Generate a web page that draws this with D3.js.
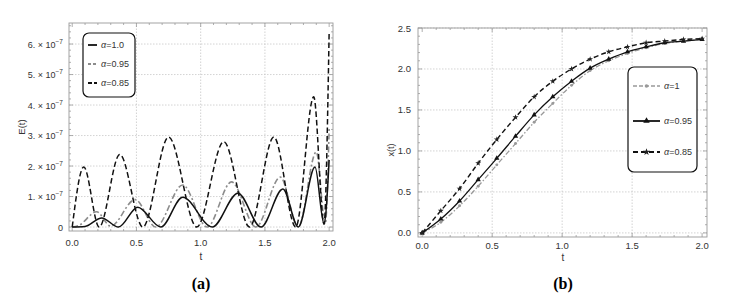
<!DOCTYPE html>
<html><head><meta charset="utf-8">
<script src="https://cdn.jsdelivr.net/npm/d3@7"></script>
<style>body{margin:0;background:#fff}svg{display:block}text{font-family:"Liberation Sans",Arial,sans-serif}</style>
</head><body><svg id="c" width="737" height="305"></svg>
<script>
// ---- Panel (a): E(t), values in units of 1e-7 ----
const tA1 = [0, 0.1, 0.23, 0.36, 0.51, 0.69, 0.86, 1.09, 1.29, 1.47, 1.64, 1.76, 1.89, 1.96, 2.0];
const eA1 = [0, 0.02, 0.3, 0, 0.65, 0, 0.98, 0, 1.11, 0, 1.25, 0, 1.97, 0.1, 2.2];
const tA95 = [0, 0.05, 0.19, 0.3, 0.49, 0.65, 0.86, 1.05, 1.24, 1.43, 1.62, 1.76, 1.9, 1.97, 2.0];
const eA95 = [0, 0.05, 0.5, 0.03, 0.9, 0, 1.38, 0, 1.48, 0, 1.64, 0, 2.46, 0.1, 3.25];
const tA85 = [0, 0.09, 0.21, 0.37, 0.55, 0.75, 0.97, 1.18, 1.38, 1.57, 1.74, 1.88, 1.96, 2.0];
const eA85 = [0, 1.97, 0, 2.38, 0, 2.95, 0, 2.8, 0, 2.95, 0, 4.27, 0.1, 6.4];
const xTicksA = [0, 0.5, 1.0, 1.5, 2.0];
const xTickLabelsA = ["0.0", "0.5", "1.0", "1.5", "2.0"];
const yTicksA = [0, 1, 2, 3, 4, 5, 6];
const yTickMantA = ["0", "1.", "2.", "3.", "4.", "5.", "6."];
const legendA = ["α=1.0", "α=0.95", "α=0.85"];

// ---- Panel (b): x(t) ----
const tB = [0, 0.133, 0.267, 0.4, 0.533, 0.667, 0.8, 0.933, 1.067, 1.2, 1.333, 1.467, 1.6, 1.733, 1.867, 2.0];
const xB1 = [0, 0.13, 0.33, 0.57, 0.83, 1.09, 1.35, 1.58, 1.80, 1.98, 2.10, 2.19, 2.26, 2.31, 2.34, 2.36];
const xB95 = [0, 0.17, 0.39, 0.65, 0.91, 1.18, 1.44, 1.66, 1.85, 2.01, 2.12, 2.21, 2.27, 2.32, 2.34, 2.36];
const xB85 = [0, 0.27, 0.54, 0.85, 1.14, 1.41, 1.66, 1.85, 2.0, 2.12, 2.21, 2.27, 2.32, 2.34, 2.36, 2.37];
const xTicksB = [0, 0.5, 1.0, 1.5, 2.0];
const yTicksB = [0, 0.5, 1.0, 1.5, 2.0, 2.5];
const legendB = ["α=1", "α=0.95", "α=0.85"];

const svg = d3.select("#c");
const TXT = "#333", FR = "#9a9a9a", GRID = "#c8c8c8";
const SERIF = "'Liberation Serif','Times New Roman',serif";

function frame(g, x, y, xMinor, yMinor, xMajor, yMajor) {
  const [x0, x1] = x.range(), [y0, y1] = y.range();
  g.selectAll(null).data(xMajor.filter(v => v > 0 && v < 2)).join("line")
    .attr("x1", d => x(d)).attr("x2", d => x(d)).attr("y1", y0).attr("y2", y1)
    .attr("stroke", GRID).attr("stroke-width", 0.8).attr("stroke-dasharray", "1.5,1.5");
  g.selectAll(null).data(yMajor).join("line")
    .attr("x1", x0).attr("x2", x1).attr("y1", d => y(d)).attr("y2", d => y(d))
    .attr("stroke", GRID).attr("stroke-width", 0.8).attr("stroke-dasharray", "1.5,1.5");
  g.append("rect").attr("x", x0).attr("y", y1).attr("width", x1 - x0).attr("height", y0 - y1)
    .attr("fill", "none").attr("stroke", FR).attr("stroke-width", 0.9);
  xMinor.forEach(v => {
    const maj = xMajor.some(m => Math.abs(m - v) < 1e-6), L = maj ? 4 : 2;
    g.append("line").attr("x1", x(v)).attr("x2", x(v)).attr("y1", y0).attr("y2", y0 - L).attr("stroke", FR).attr("stroke-width", 0.8);
    g.append("line").attr("x1", x(v)).attr("x2", x(v)).attr("y1", y1).attr("y2", y1 + L).attr("stroke", FR).attr("stroke-width", 0.8);
  });
  yMinor.forEach(v => {
    const maj = yMajor.some(m => Math.abs(m - v) < 1e-6), L = maj ? 4 : 2;
    g.append("line").attr("y1", y(v)).attr("y2", y(v)).attr("x1", x0).attr("x2", x0 + L).attr("stroke", FR).attr("stroke-width", 0.8);
    g.append("line").attr("y1", y(v)).attr("y2", y(v)).attr("x1", x1).attr("x2", x1 - L).attr("stroke", FR).attr("stroke-width", 0.8);
  });
}

// ===== Panel (a) =====
const xA = d3.scaleLinear().domain([-0.025, 2.03]).range([69, 333]);
const yA = d3.scaleLinear().domain([-0.13, 6.69]).range([231, 23]);
const gA = svg.append("g");
frame(gA, xA, yA, d3.range(0, 2.01, 0.1), d3.range(0, 6.61, 0.2), xTicksA, yTicksA);

xTicksA.forEach((v, i) => gA.append("text").attr("x", xA(v)).attr("y", 246).attr("text-anchor", "middle")
  .attr("font-size", 9.5).attr("fill", TXT).text(xTickLabelsA[i]));
yTicksA.forEach((v, i) => {
  const t = gA.append("text").attr("x", 63).attr("y", yA(v) + 3.5).attr("text-anchor", "end").attr("font-size", 9).attr("fill", TXT);
  if (v === 0) { t.text("0"); return; }
  t.append("tspan").text(yTickMantA[i] + " × 10");
  t.append("tspan").attr("dy", -4).attr("font-size", 6.5).text("−7");
});
gA.append("text").attr("transform", "translate(25,127) rotate(-90)").attr("text-anchor", "middle")
  .attr("font-size", 9.5).attr("fill", TXT).text("E(t)");
gA.append("text").attr("x", 201).attr("y", 260).attr("text-anchor", "middle").attr("font-size", 10).attr("fill", TXT).text("t");
gA.append("text").attr("x", 201).attr("y", 289).attr("text-anchor", "middle").attr("font-size", 16)
  .attr("font-weight", "bold").style("font-family", SERIF).attr("fill", "#000").text("(a)");

const lineA = d3.line().x(d => xA(d[0])).y(d => yA(d[1])).curve(d3.curveMonotoneX);
svg.append("clipPath").attr("id", "clipA").append("rect").attr("x", 69).attr("y", 23).attr("width", 264).attr("height", 208);
const seriesA = [
  {t: tA95, e: eA95, stroke: "#8c8c8c", dash: "6,2.5,2,2.5", w: 1.6},
  {t: tA1, e: eA1, stroke: "#111", dash: null, w: 1.5},
  {t: tA85, e: eA85, stroke: "#111", dash: "5.5,3", w: 1.5}
];
seriesA.forEach(s => gA.append("path").attr("d", lineA(s.t.map((t, i) => [t, s.e[i]])))
  .attr("fill", "none").attr("stroke", s.stroke).attr("stroke-width", s.w).attr("stroke-dasharray", s.dash)
  .attr("clip-path", "url(#clipA)"));

gA.append("rect").attr("x", 83).attr("y", 33).attr("width", 52).attr("height", 64).attr("rx", 6)
  .attr("fill", "#fff").attr("stroke", "#111").attr("stroke-width", 1.2);
const legStylesA = [
  {stroke: "#111", dash: null}, {stroke: "#8c8c8c", dash: "3,2"}, {stroke: "#111", dash: "4,2"}];
legendA.forEach((lab, i) => {
  const yy = 45 + i * 19;
  gA.append("line").attr("x1", 88).attr("x2", 97).attr("y1", yy).attr("y2", yy)
    .attr("stroke", legStylesA[i].stroke).attr("stroke-width", 1.8).attr("stroke-dasharray", legStylesA[i].dash);
  const t = gA.append("text").attr("x", 101).attr("y", yy + 3.2).attr("font-size", 9).attr("fill", TXT);
  t.append("tspan").attr("font-style", "italic").text("α");
  t.append("tspan").text(lab.slice(1));
});

// ===== Panel (b) =====
const xBs = d3.scaleLinear().domain([-0.03, 2.035]).range([418, 707]);
const yBs = d3.scaleLinear().domain([-0.05, 2.5]).range([237, 28]);
const gB = svg.append("g");
frame(gB, xBs, yBs, d3.range(0, 2.01, 0.1), d3.range(0, 2.51, 0.1), xTicksB, yTicksB);
xTicksB.forEach(v => gB.append("text").attr("x", xBs(v)).attr("y", 249).attr("text-anchor", "middle")
  .attr("font-size", 9.5).attr("fill", TXT).text(d3.format(".1f")(v)));
yTicksB.forEach(v => gB.append("text").attr("x", 411).attr("y", yBs(v) + 3.5).attr("text-anchor", "end")
  .attr("font-size", 9.5).attr("fill", TXT).text(d3.format(".1f")(v)));
gB.append("text").attr("transform", "translate(394,150) rotate(-90)").attr("text-anchor", "middle")
  .attr("font-size", 9).attr("fill", TXT).text("x(t)");
gB.append("text").attr("x", 563).attr("y", 261).attr("text-anchor", "middle").attr("font-size", 10).attr("fill", TXT).text("t");
gB.append("text").attr("x", 563).attr("y", 289).attr("text-anchor", "middle").attr("font-size", 16)
  .attr("font-weight", "bold").style("font-family", SERIF).attr("fill", "#000").text("(b)");

const lineB = d3.line().x(d => xBs(d[0])).y(d => yBs(d[1])).curve(d3.curveMonotoneX);
const seriesB = [
  {v: xB1, stroke: "#999", dash: "5,2,1.5,2", w: 1.3, sym: d3.symbolCircle, size: 7, fill: "#999"},
  {v: xB95, stroke: "#111", dash: null, w: 1.3, sym: d3.symbolTriangle, size: 12, fill: "#111"},
  {v: xB85, stroke: "#111", dash: "5,3", w: 1.4, sym: d3.symbolStar, size: 11, fill: "#222"}
];
seriesB.forEach(s => {
  const pts = tB.map((t, i) => [t, s.v[i]]);
  gB.append("path").attr("d", lineB(pts)).attr("fill", "none").attr("stroke", s.stroke)
    .attr("stroke-width", s.w).attr("stroke-dasharray", s.dash);
  gB.selectAll(null).data(pts).join("path").attr("d", d3.symbol(s.sym, s.size))
    .attr("transform", d => `translate(${xBs(d[0])},${yBs(d[1])})`).attr("fill", s.fill);
});

gB.append("rect").attr("x", 628).attr("y", 67).attr("width", 69).attr("height", 105).attr("rx", 6)
  .attr("fill", "#fff").attr("stroke", "#111").attr("stroke-width", 1.2);
[86, 121, 152].forEach((yy, i) => {
  const s = seriesB[i];
  gB.append("line").attr("x1", 633).attr("x2", 660).attr("y1", yy).attr("y2", yy)
    .attr("stroke", s.stroke).attr("stroke-width", i === 0 ? 1.3 : 1.8).attr("stroke-dasharray", i === 0 ? "4,2" : s.dash);
  gB.append("path").attr("d", d3.symbol(s.sym, s.size * 1.5)).attr("transform", `translate(646.5,${yy})`).attr("fill", s.fill);
  const t = gB.append("text").attr("x", 664).attr("y", yy + 3.3).attr("font-size", 9).attr("fill", TXT);
  t.append("tspan").attr("font-style", "italic").text("α");
  t.append("tspan").text(legendB[i].slice(1));
});
</script></body></html>
